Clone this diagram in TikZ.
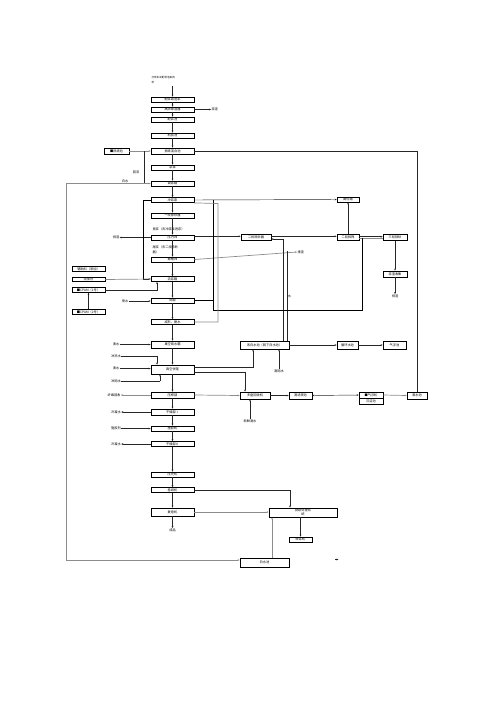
\documentclass[tikz,border=0pt]{standalone}
\usepackage{fontspec}
\newfontfamily\cjk{Noto Sans CJK SC}
\usetikzlibrary{arrows.meta}
\begin{document}
\begin{tikzpicture}[x=1pt,y=-1pt,
  box/.style={draw, line width=0.8pt, inner sep=0pt, font=\cjk\fontsize{3.2}{3.6}\selectfont},
  mbox/.style={box, minimum width=43pt, minimum height=5pt},
  sbox/.style={box, minimum width=33pt, minimum height=4.5pt},
  lbl/.style={inner sep=0.3pt, font=\cjk\fontsize{3.2}{3.6}\selectfont},
  conn/.style={line width=0.45pt, draw=black!85},
  gconn/.style={line width=0.7pt, draw=black!45},
  arr/.style={conn, -{Stealth[length=2pt,width=1.8pt]}},
  garr/.style={gconn, -{Stealth[length=2pt,width=1.8pt]}},
  thk/.style={line width=0.8pt, draw=black},
]
\useasboundingbox (0,0) rectangle (496,702);

% top label
\node[lbl, anchor=west, align=left, font=\cjk\fontsize{2.6}{4.5}\selectfont] (top) at (151,80) {打浆车间配浆池来的\\浆};
\coordinate (t1) at (172.5,86);

% main column
\node[mbox] (A) at (172.5,99.5) {配浆泵送浆};
\node[mbox] (B) at (172.5,109.5) {高浓除渣器};
\node[mbox] (C) at (172.5,119.5) {配浆池};
\node[mbox] (D) at (172.5,135.5) {机前池};
\node[mbox, minimum height=6pt] (E) at (172.5,151) {损纸混合池};
\node[mbox] (E2) at (172.5,167.5) {浆泵};
\node[mbox] (F) at (172.5,183.5) {调浆箱};
\node[mbox] (G) at (172.5,200) {冲浆泵};
\node[mbox] (H) at (172.5,215.5) {一段除砂器};
\node[lbl, anchor=west] (lb1) at (152,229.5) {良浆（去冲浆泵进浆）};
\node[mbox] (I) at (172.5,237.5) {压力筛};
\node[lbl, anchor=west, align=left, font=\cjk\fontsize{3.2}{4.6}\selectfont] (lb2) at (152,250) {尾浆（去二段除砂\\器）};
\node[mbox] (J) at (172.5,259.5) {振框筛};
\node[mbox] (K) at (172.5,279) {流浆箱};
\node[mbox] (L) at (172.5,300.5) {网部};
\node[mbox] (M) at (172.5,322) {成形、脱水};
\node[mbox, minimum height=7pt] (N) at (172.5,344.5) {真空吸水箱};
\node[mbox, minimum height=9pt] (O) at (172.5,369.5) {真空伏辊};
\node[mbox, minimum height=6pt] (P) at (172.5,395) {压榨部};
\node[mbox, minimum height=6pt] (Q) at (172.5,412) {干燥部Ⅰ};
\node[mbox] (R) at (172.5,428.5) {施胶机};
\node[mbox] (S) at (172.5,444) {干燥部Ⅱ};
\node[mbox] (T) at (172.5,474.5) {压光机};
\node[mbox] (U) at (172.5,490) {卷纸机};
\node[mbox, minimum height=8pt] (V) at (172.5,512) {复卷机};
\node[lbl] (cp) at (172.5,530) {成品};

\draw[arr] (t1) -- (A);
\foreach \a/\b in {A/B,B/C,C/D,D/E,E/E2,E2/F,F/G,G/H,H/I,I/J,J/K,K/L,L/M,M/N,N/O,O/P,P/Q,Q/R,R/S,S/T,T/U,U/V,V/cp}
  \draw[arr] (\a) -- (\b);

% slag
\node[lbl, anchor=west] (jz) at (211,109.5) {浆渣};
\draw[arr] (B.east) -- (jz.west);

% broke pit
\node[box, minimum width=25pt, minimum height=6pt] (SZ) at (116.5,151) {■损纸池};
\draw[garr] (SZ.east) -- (E.west);
\node[lbl] (hl) at (136,172.5) {回流};
\coordinate (h1) at (144,151);
\coordinate (h2) at (144,183.5);
\draw[conn] (h1) -- (h2);

% long white water line
\node[lbl] (bs) at (125,181.3) {白水};
\coordinate (lw1) at (66,183.5);
\coordinate (lw2) at (66,560);
\draw[garr] (lw2) -- (lw1) -- (F.west);

% right line from E to clear water
\node[box, minimum width=20pt, minimum height=7pt] (D4) at (417,395.5) {清水池};
\coordinate (e1) at (417,151);
\draw[conn] (E.east) -- (e1) -- (D4.north);

% high box and screens
\node[box, minimum width=22pt, minimum height=5pt] (H1) at (348,199.5) {高位箱};
\node[box, minimum width=30pt, minimum height=6pt] (R1) at (256,237.5) {二段除砂器};
\node[box, minimum width=22pt, minimum height=6pt] (R2) at (348,237.5) {二段斜筛};
\node[box, minimum width=24pt, minimum height=6pt] (R3) at (395,237.5) {三段除砂};
\node[box, minimum width=24pt, minimum height=6pt] (R4) at (395,274) {浆渣收集};
\node[lbl] (pz3) at (395,296) {排渣};
\node[lbl] (pz1) at (116,237.5) {排渣};
\node[lbl, anchor=west] (pz2) at (297,252) {排渣};
\node[lbl] (sh) at (289.5,296) {水};

\draw[arr] (G.east) -- (H1.west);
\draw[arr] (R2.north) -- (H1.south);
\draw[arr] (I.west) -- (pz1.east);
\draw[arr] ([yshift=1.2pt]I.east) -- ([yshift=1.2pt]R1.west);
\draw[arr] ([yshift=1.2pt]R1.east) -- ([yshift=1.2pt]R2.west);
\draw[arr] ([yshift=0.8pt]R2.east) -- ([yshift=0.8pt]R3.west);
\draw[gconn] ([yshift=-0.6pt]R2.east) -- ([yshift=-0.6pt]R3.west);
\draw[arr] (R3) -- (R4);
\draw[arr] (R4) -- (pz3);
\draw[garr] (J.east) -- (pz2.west);

% white water pit lines up
\node[box, minimum width=49pt, minimum height=8pt] (W1) at (264.5,345) {浓白水池（网下白水池）};
\node[box, minimum width=21pt, minimum height=8pt] (W2) at (347.5,345) {循环水池};
\node[box, minimum width=23pt, minimum height=8pt] (W3) at (394.5,345) {气浮池};
\coordinate (w1a) at (283,341);
\coordinate (w1b) at (283,239);
\draw[arr] (w1a) -- (w1b) -- (R1.east |- w1b);
\coordinate (w2a) at (287.5,341);
\coordinate (w2b) at (287.5,251);
\draw[conn] (w2a) -- (w2b);
\draw[arr] (W1.east) -- (W2.west);
\draw[arr] (W2.east) -- (W3.west);
\node[lbl] (qw) at (279,371) {清网水};
\draw[arr] (qw.north) -- (qw.north |- W1.south);

% thick loop lines
\coordinate (p0) at (362.5,237.5);
\coordinate (p1) at (362.5,310);
\coordinate (p2) at (213,310);
\coordinate (p3) at (213,200);
\coordinate (p4) at (213,300.5);
\draw[thk] (p0) -- (p1) -- (p2) -- (p3);
\draw[thk] (L.east) -- (p4);
\coordinate (q1) at (218,203.5);
\coordinate (q2) at (218,322);
\draw[gconn] (G.south east) -- (q1) -- (q2) -- (M.east);
\coordinate (l1) at (143,200);
\coordinate (l2) at (143,279);
\draw[thk, -{Stealth[length=2pt,width=1.8pt]}] (G.west) -- (l1) -- (l2) -- (K.west);

% chemicals
\node[sbox] (FZ) at (88.5,269) {辅助料（添加）};
\node[sbox] (TJ) at (88.5,279.5) {添加剂};
\node[sbox] (CP1) at (88.5,290) {■CPAM（1号）};
\node[sbox] (CP2) at (88.5,312) {■CPAM（2号）};
\draw[garr] (TJ.east) -- (K.west);
\coordinate (cc1) at (157,290);
\draw[arr] (CP1.east) -- (cc1) -- (cc1 |- K.south);
\draw[arr] (CP2.north) -- (CP1.south);
\node[lbl] (ps) at (125,301) {喷水};
\draw[arr] (ps.east) -- (ps.east -| L.west);

% water inputs
\node[lbl] (ln1) at (116,344.5) {清水};
\node[lbl] (ln2) at (116,356.5) {冲洗水};
\node[lbl] (ln3) at (116,368.5) {清水};
\node[lbl] (ln4) at (116,381) {冲网水};
\draw[arr] (ln1.east) -- (N.west);
\coordinate (c2) at (157,356.5);
\draw[arr] (ln2.east) -- (c2) -- (c2 |- O.north);
\draw[arr] (ln3.east) -- (ln3.east -| O.west);
\coordinate (c4) at (160,381);
\draw[conn] (ln4.east) -- (c4);
\draw[arr] (c4) -- (c4 |- O.south);

% vacuum outlets
\coordinate (o1) at (253,367);
\coordinate (o2) at (245,372);
\draw[arr] (O.east |- o1) -- (o1) -- (o1 |- W1.south);
\node[box, minimum width=30pt, minimum height=7pt] (D1) at (255,395.5) {多盘回收机};
\draw[arr] (O.east |- o2) -- (o2) -- (o2 |- D1.north);

% side outputs
\node[lbl] (lp) at (114,395) {纤维回收};
\node[lbl] (lq) at (116,412) {冷凝水};
\node[lbl] (lr) at (116,428.5) {施胶剂};
\node[lbl] (ls) at (116,444) {冷凝水};
\draw[garr] (P.west) -- (lp.east);
\draw[arr] (Q.west) -- (lq.east);
\draw[arr] (lr.east) -- (R.west);
\draw[arr] (S.west) -- (ls.east);

% fibre recovery chain
\node[box, minimum width=23pt, minimum height=7pt] (D2) at (300.5,395.5) {清滤液池};
\node[box, minimum width=24pt, minimum height=6pt] (D3a) at (371,395) {■气浮机};
\node[box, minimum width=24pt, minimum height=6pt] (D3b) at (371,401) {沉淀池};
\node[lbl] (xq) at (250,421) {新鲜清水};
\draw[garr] (P.east) -- (D1.west);
\draw[arr] (D1.east) -- (D2.west);
\draw[conn, {Stealth[length=2pt,width=1.8pt]}-{Stealth[length=2pt,width=1.8pt]}] (D2.east) -- (D3a.west);
\draw[garr] (D3a.east) -- (D4.west);
\draw[arr] (xq.north) -- (xq.north |- D1.south);

% broke system
\node[box, minimum width=68pt, minimum height=9pt, align=center, font=\cjk\fontsize{3.2}{4}\selectfont] (X1) at (303,512.5) {损纸处理系\\统};
\node[box, minimum width=23pt, minimum height=5pt] (X2) at (300.5,539.5) {碎浆机};
\node[box, minimum width=49pt, minimum height=9pt] (X3) at (264.5,562.5) {白水池};
\coordinate (u1) at (290,490);
\draw[arr] (U.east) -- (u1) -- (u1 |- X1.north);
\draw[garr] (V.east) -- (V.east -| X1.west);
\draw[arr] (X2.north |- X1.south) -- (X2.north);
\coordinate (x3a) at (272,558);
\draw[garr] (x3a) -- (x3a |- X1.south);
\draw[garr] (lw2) -- (lw2 -| X3.west);
\coordinate (ta1) at (335,559.5);
\coordinate (ta2) at (338.5,559.5);
\draw[arr] (ta1) -- (ta2);
\end{tikzpicture}
\end{document}
